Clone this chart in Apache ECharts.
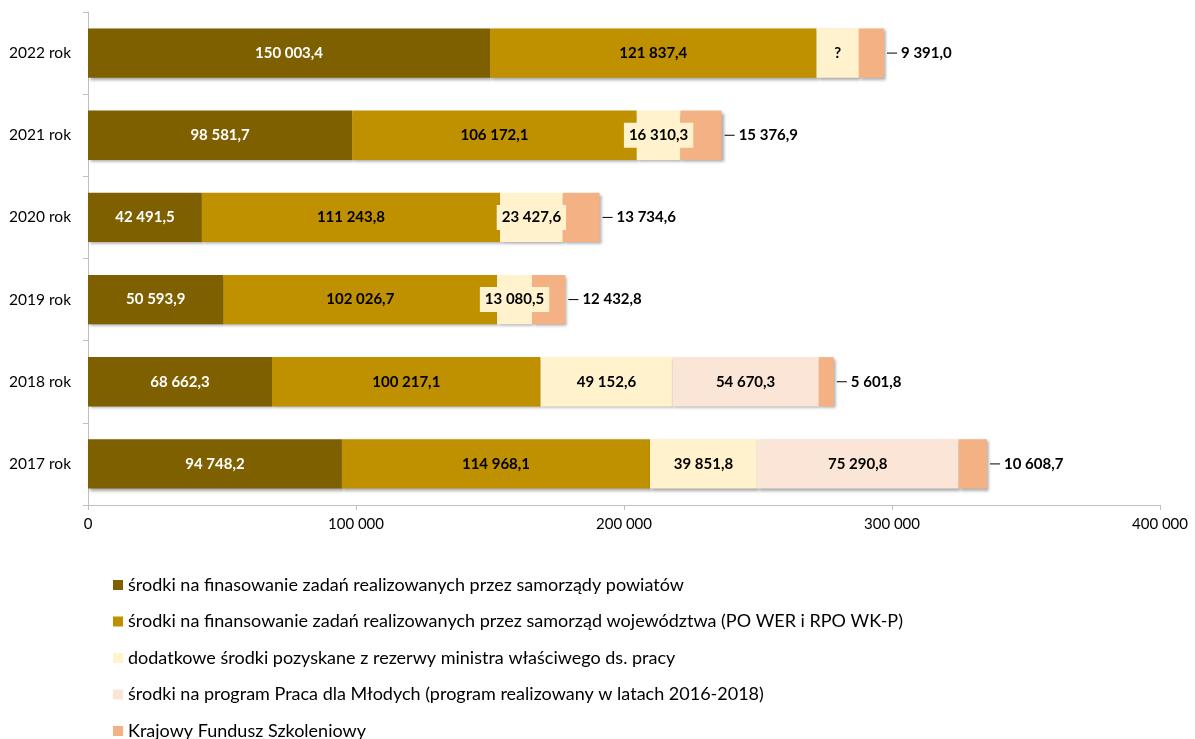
<!DOCTYPE html>
<html>
<head>
<meta charset="utf-8">
<style>
  html, body { margin: 0; padding: 0; background: #fff; }
  #chart { width: 1195px; height: 739px; }
</style>
<script src="https://cdn.jsdelivr.net/npm/echarts@6/dist/echarts.min.js"></script>
</head>
<body>
<div id="chart"></div>
<script>
// lata, od dołu do góry
const years = ['2017 rok', '2018 rok', '2019 rok', '2020 rok', '2021 rok', '2022 rok'];

const powiaty = [94748.2, 68662.3, 50593.9, 42491.5, 98581.7, 150003.4];
const wojewodztwo = [114968.1, 100217.1, 102026.7, 111243.8, 106172.1, 121837.4];
const rezerwa = [39851.8, 49152.6, 13080.5, 23427.6, 16310.3, 15800]; // 2022: nieznana kwota, szacunek z szerokości
const rezerwaLabels = [null, null, null, null, null, '?'];
const mlodzi = [75290.8, 54670.3, null, null, null, null];
const kfs = [10608.7, 5601.8, 12432.8, 13734.6, 15376.9, 9391.0];

const xTicks = [0, 100000, 200000, 300000, 400000];

const seriesNames = [
  'środki na finasowanie zadań realizowanych przez samorządy powiatów',
  'środki na finansowanie zadań realizowanych przez samorząd województwa (PO WER i RPO WK-P)',
  'dodatkowe środki pozyskane z rezerwy ministra właściwego ds. pracy',
  'środki na program Praca dla Młodych (program realizowany w latach 2016-2018)',
  'Krajowy Fundusz Szkoleniowy'
];
const colors = ['#7F6000', '#BF9000', '#FFF2CC', '#FBE5D6', '#F4B183'];

const FONT = 'Lato';

// format polski: spacja tysięcy, przecinek dziesiętny
function fmt(v, dec) {
  const s = v.toFixed(dec).split('.');
  const int = s[0].replace(/\B(?=(\d{3})+(?!\d))/g, ' ');
  return dec ? int + ',' + s[1] : int;
}

const shadow = {
  shadowColor: 'rgba(0,0,0,0.35)',
  shadowBlur: 3,
  shadowOffsetX: 2,
  shadowOffsetY: 2
};

function bar(i, data, label) {
  return {
    name: seriesNames[i],
    type: 'bar',
    stack: 'total',
    barCategoryGap: '40%',
    data: data,
    itemStyle: Object.assign({ color: colors[i] }, shadow),
    label: Object.assign({
      show: true,
      position: 'inside',
      fontFamily: FONT,
      fontWeight: 'bold',
      fontSize: 15,
      color: '#000',
      formatter: p => p.value == null ? '' : fmt(p.value, 1)
    }, label)
  };
}

const chart = echarts.init(document.getElementById('chart'));

chart.setOption({
  animation: false,
  textStyle: { fontFamily: FONT },
  grid: { left: 88, right: 35, top: 12, bottom: 234, containLabel: false },
  legend: {
    orient: 'vertical',
    left: 108,
    top: 571,
    height: 300,
    icon: 'rect',
    itemWidth: 10,
    itemHeight: 10,
    itemGap: 18.5,
    textStyle: { fontFamily: FONT, fontSize: 18, color: '#000' },
    data: seriesNames
  },
  xAxis: {
    type: 'value',
    min: xTicks[0],
    max: xTicks[xTicks.length - 1],
    interval: 100000,
    splitLine: { show: false },
    axisLine: { show: true, lineStyle: { color: '#BFBFBF' } },
    axisTick: { show: true, length: 5, lineStyle: { color: '#BFBFBF' } },
    axisLabel: {
      color: '#000', fontSize: 15, fontFamily: FONT, margin: 12,
      formatter: v => fmt(v, 0)
    }
  },
  yAxis: {
    type: 'category',
    data: years,
    axisLine: { show: true, lineStyle: { color: '#BFBFBF' } },
    axisTick: { show: true, length: 5, lineStyle: { color: '#BFBFBF' } },
    axisLabel: { color: '#000', fontSize: 15.5, fontFamily: FONT, margin: 17 }
  },
  series: [
    bar(0, powiaty, { color: '#fff' }),
    bar(1, wojewodztwo, {}),
    bar(2, rezerwa, {
      backgroundColor: colors[2],
      padding: [5, 5],
      formatter: p => rezerwaLabels[p.dataIndex] || fmt(p.value, 1)
    }),
    bar(3, mlodzi, {}),
    bar(4, kfs, { position: 'right', distance: 17 })
  ]
});

// krótkie linie odniesienia przy etykietach KFS
chart.setOption({
  graphic: years.map((y, i) => {
    const total = powiaty[i] + wojewodztwo[i] + rezerwa[i] + (mlodzi[i] || 0) + kfs[i];
    const p = chart.convertToPixel({ gridIndex: 0 }, [total, y]);
    return {
      type: 'line',
      shape: { x1: p[0] + 3, y1: p[1], x2: p[0] + 13, y2: p[1] },
      style: { stroke: '#000', lineWidth: 1 }
    };
  })
});
</script>
</body>
</html>
